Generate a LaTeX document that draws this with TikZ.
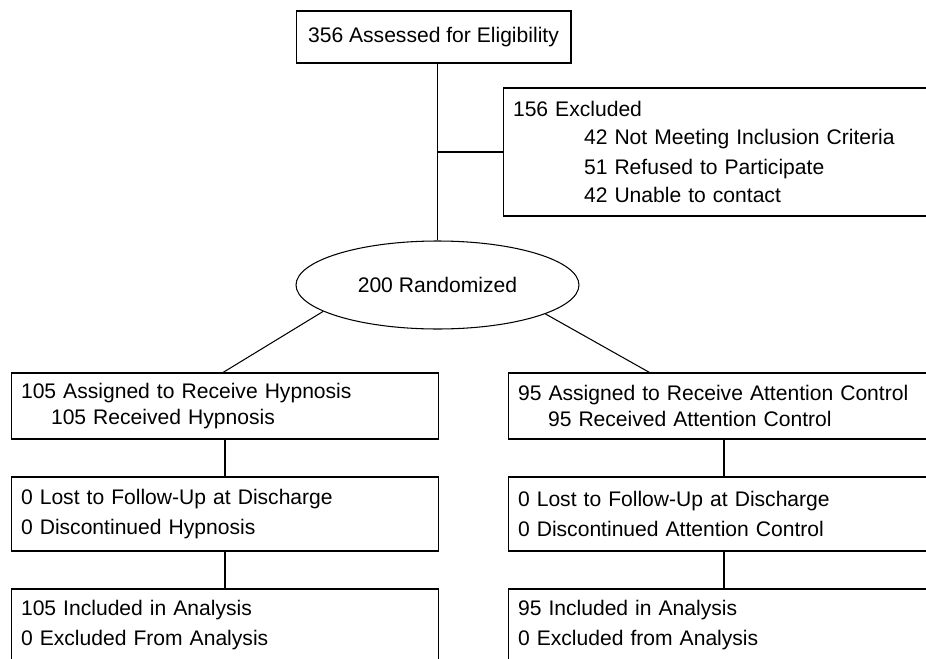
\documentclass[tikz,border=0pt]{standalone}
\usepackage{fontspec}
\setmainfont{Liberation Sans}
\usetikzlibrary{shapes.geometric,calc}

\begin{document}
\begin{tikzpicture}[x=0.02cm, y=-0.02cm, line width=0.6pt,
  every node/.style={font=\fontsize{12}{15.5}\selectfont},
  box/.style={draw, rectangle, inner xsep=0.2cm, inner ysep=0pt, align=left},
  leftbox/.style={box, text width=8.16cm},
  rightbox/.style={box, text width=8.24cm}]
\useasboundingbox (0,0) rectangle (926,659);
\clip (0,0) rectangle (926,659);
% screening
\node[draw, minimum width=5.5cm, minimum height=1.04cm, inner sep=0pt] (assess) at (433.5,37) {356 Assessed for Eligibility};
\node[box, text width=8.34cm, minimum height=2.56cm] (excl) at (721.5,152) {156 Excluded\\
  \hspace*{1.42cm}42 Not Meeting Inclusion Criteria\\[1.5pt]
  \hspace*{1.42cm}51 Refused to Participate\\[0.5pt]
  \hspace*{1.42cm}42 Unable to contact};
\node[draw, ellipse, minimum width=5.66cm, minimum height=1.76cm, inner sep=0pt] (rand) at (437.5,285) {200 Randomized};
% hypnosis arm
\node[leftbox, minimum height=1.32cm] (hyp1) at (225,406) {105 Assigned to Receive Hypnosis\\[-0.8pt]
  \hspace*{0.6cm}105 Received Hypnosis};
\node[leftbox, minimum height=1.48cm] (hyp2) at (225,514) {0 Lost to Follow-Up at Discharge\\[1.5pt]
  0 Discontinued Hypnosis};
\node[leftbox, minimum height=1.44cm] (hyp3) at (225,625) {105 Included in Analysis\\[2pt]
  0 Excluded From Analysis};
% attention control arm
\node[rightbox, minimum height=1.32cm] (att1) at (724,406) {95 Assigned to Receive Attention Control\\[-0.8pt]
  \hspace*{0.6cm}95 Received Attention Control};
\node[rightbox, minimum height=1.48cm] (att2) at (724,514) {0 Lost to Follow-Up at Discharge\\[1.5pt]
  0 Discontinued Attention Control};
\node[rightbox, minimum height=1.44cm] (att3) at (724,625) {95 Included in Analysis\\[2pt]
  0 Excluded from Analysis};
\coordinate (attin) at ($(att1.north west)+(142,0)$);
% connectors
\draw (assess.south -| rand.north) -- (rand.north);
\draw (excl.west) -- (excl.west -| rand.north);
\draw (rand.193.5) -- ($(hyp1.north)+(-2,0)$);
\draw (rand.345.3) -- (attin);
\draw (hyp1) -- (hyp2);
\draw (hyp2) -- (hyp3);
\draw (att1) -- (att2);
\draw (att2) -- (att3);
\end{tikzpicture}
\end{document}
